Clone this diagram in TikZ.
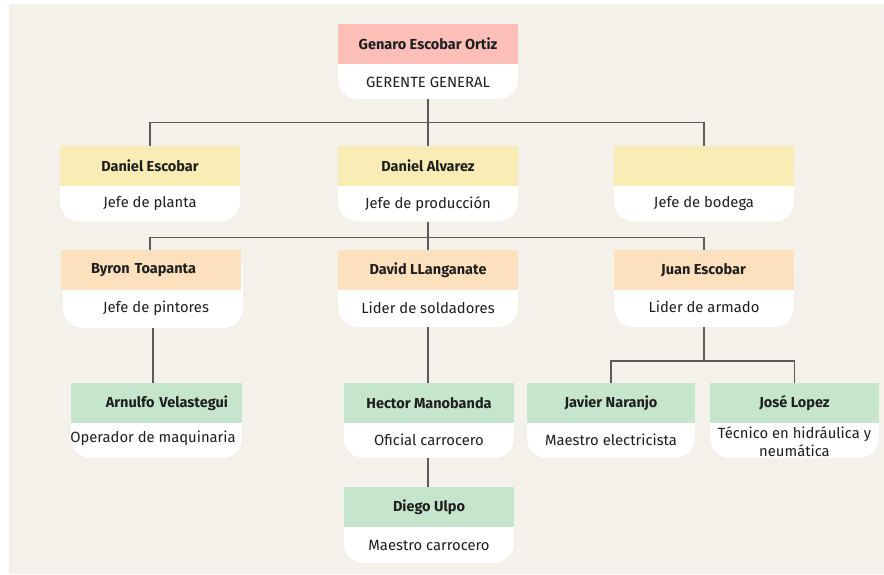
\documentclass[tikz,border=0pt]{standalone}
\usepackage{fontspec}
\setmainfont{Fira Sans}
\usetikzlibrary{positioning,calc}

\definecolor{paper}{HTML}{F4F0EA}
\definecolor{rosa}{HTML}{FBBFB8}
\definecolor{amarillo}{HTML}{F9ECB5}
\definecolor{naranja}{HTML}{FDE1BF}
\definecolor{verde}{HTML}{C5E6CC}
\definecolor{linea}{HTML}{5A5A5A}
\definecolor{tinta}{HTML}{1E1E1E}

\begin{document}
\begin{tikzpicture}[
  x=1pt, y=-1pt,
  card/.style={
    rectangle, fill=white, rounded corners=20pt, outer sep=0pt,
    minimum width=180pt, minimum height=75pt
  },
  head/.style={
    rectangle, outer sep=0pt, minimum width=180pt, minimum height=40pt,
    font=\fontsize{14.5}{16}\selectfont\bfseries, text=tinta
  },
  role/.style={
    align=center, inner sep=0pt, font=\fontsize{14.8}{18}\selectfont, text=tinta
  },
  link/.style={draw=linea, line width=1.2pt}
]

\useasboundingbox (0,0) rectangle (884,574);
\fill[white] (0,0) rectangle (884,574);
\fill[paper] (9,4) rectangle (884,574);

\node[card] (gg) at (428,61.5) {};
\node[head, fill=rosa] (gg-h) at (428,44) {Genaro Escobar Ortiz};
\node[role] (gg-r) at (428,82) {GERENTE GENERAL};

\node[card] (de) at (150,184.2) {};
\node[head, fill=amarillo] (de-h) at (150,166.2) {Daniel Escobar};
\node[role] (de-r) at (150,204) {Jefe de planta};

\node[card] (da) at (428,184.2) {};
\node[head, fill=amarillo] (da-h) at (428,166.2) {Daniel Alvarez};
\node[role] (da-r) at (428,204) {Jefe de producción};

\node[card] (jb) at (704,184.2) {};
\node[head, fill=amarillo] (jb-h) at (704,166.2) {};
\node[role] (jb-r) at (704,204) {Jefe de bodega};

\node[card, minimum height=78pt] (bt) at (153,289) {};
\node[head, fill=naranja, text width=120pt, align=left, inner xsep=30pt] (bt-h) at (151,270) {Byron Toapanta};
\node[role] (bt-r) at (156,308) {Jefe de pintores};

\node[card, minimum height=77pt] (dl) at (428,288.5) {};
\node[head, fill=naranja] (dl-h) at (428,270) {David LLanganate};
\node[role] (dl-r) at (428,308) {Lider de soldadores};

\node[card, minimum height=77pt] (je) at (704,288.5) {};
\node[head, fill=naranja] (je-h) at (703.5,270) {Juan Escobar};
\node[role] (je-r) at (704,307) {Lider de armado};

\node[card, minimum width=171pt] (av) at (156.5,420.5) {};
\node[head, fill=verde, minimum width=171pt, text width=143pt, align=right, inner xsep=14pt] (av-h) at (156.5,403) {Arnulfo Velastegui};
\node[role] (av-r) at (153,438) {Operador de maquinaria};

\node[card, minimum width=170pt] (hm) at (429,420.5) {};
\node[head, fill=verde, minimum width=170pt] (hm-h) at (429,403) {Hector Manobanda};
\node[role] (hm-r) at (429,440) {Oficial carrocero};

\node[card, minimum width=168pt] (jn) at (611,420.5) {};
\node[head, fill=verde, minimum width=168pt] (jn-h) at (611,403) {Javier Naranjo};
\node[role] (jn-r) at (611,440) {Maestro electricista};

\node[card, minimum width=169pt] (jl) at (794.5,420.5) {};
\node[head, fill=verde, minimum width=169pt] (jl-h) at (794.5,403) {José Lopez};
\node[role] (jl-r) at (794.5,442) {Técnico en hidráulica y\\neumática};

\node[card, minimum width=170pt, minimum height=76pt] (du) at (429,525) {};
\node[head, fill=verde, minimum width=170pt] (du-h) at (429,507) {Diego Ulpo};
\node[role] (du-r) at (429,545) {Maestro carrocero};

\coordinate (bus1) at (428,122.5);
\coordinate (bus2) at (428,237.5);
\coordinate (bus3) at (704,361);

\draw[link] (gg.south) -- (bus1);
\draw[link] (de-h.north) |- (bus1);
\draw[link] (jb-h.north) |- (bus1);
\draw[link] (da-h.north) -- (bus1);

\draw[link] (da.south) -- (bus2);
\draw[link] (bt-h.north -| de-h.north) |- (bus2);
\draw[link] (je-h.north -| jb-h.north) |- (bus2);
\draw[link] (dl-h.north) -- (bus2);

\draw[link] (bt.south) -- (bt.south |- av-h.north);
\draw[link] (dl.south) -- (dl.south |- hm-h.north);
\draw[link] (hm.south -| dl.south) -- (du-h.north -| dl.south);

\draw[link] (je.south) -- (bus3);
\draw[link] (jn-h.north) |- (bus3);
\draw[link] (jl-h.north) |- (bus3);

\end{tikzpicture}
\end{document}
